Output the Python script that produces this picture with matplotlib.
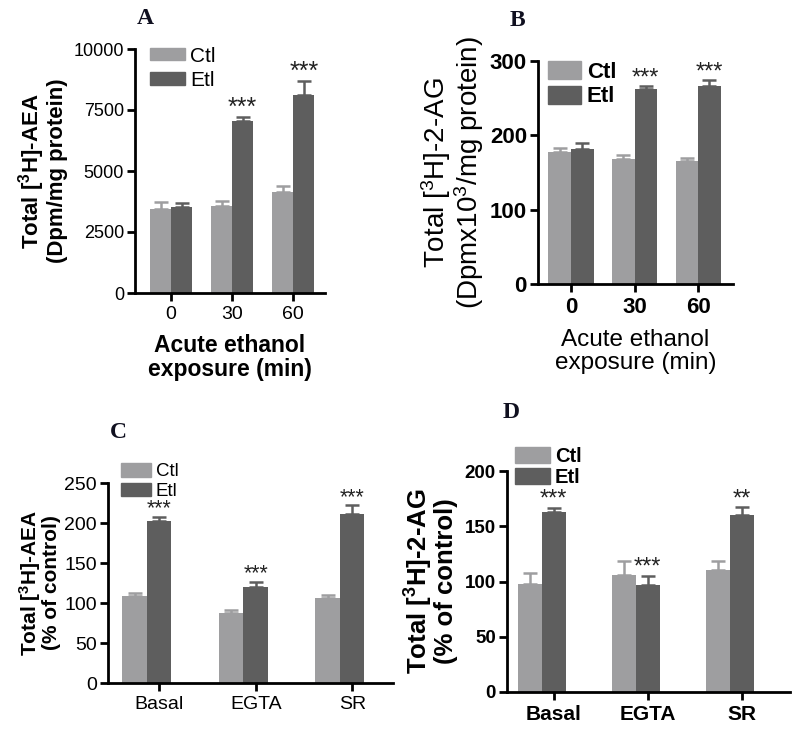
import numpy as np
import matplotlib
matplotlib.use('Agg')
import matplotlib.pyplot as plt
from matplotlib.patches import Patch

plt.rcParams['font.family'] = ['Liberation Sans', 'DejaVu Sans']
plt.rcParams['mathtext.default'] = 'regular'

CTL_C = '#9e9ea0'
ETL_C = '#5e5e5e'

# panel A: total [3H]-AEA (Dpm/mg protein)
times = ['0', '30', '60']
a_ctl = [3460, 3570, 4120]
a_ctl_err = [250, 190, 280]
a_etl = [3530, 7060, 8120]
a_etl_err = [140, 140, 580]
a_stars = ['', '***', '***']

# panel B: total [3H]-2-AG (Dpm x10^3/mg protein)
b_ctl = [177, 168, 166]
b_ctl_err = [6, 5, 4]
b_etl = [181, 262, 267]
b_etl_err = [9, 4, 7]
b_stars = ['', '***', '***']

# panel C: total [3H]-AEA (% of control)
conds = ['Basal', 'EGTA', 'SR']
c_ctl = [109, 87.5, 106.5]
c_ctl_err = [3, 4, 3.5]
c_etl = [203, 119.5, 211]
c_etl_err = [5, 7, 11.5]
c_stars = ['***', '***', '***']

# panel D: total [3H]-2-AG (% of control)
d_ctl = [97.5, 105.5, 110.5]
d_ctl_err = [10, 13, 8.5]
d_etl = [162.5, 96.5, 160.5]
d_etl_err = [4, 8.5, 6.5]
d_stars = ['***', '***', '**']

W, H = 800, 731
fig = plt.figure(figsize=(W / 100, H / 100), dpi=100)


def px_axes(left, right, top, bottom):
    return fig.add_axes([left / W, 1 - bottom / H, (right - left) / W, (bottom - top) / H])


def panel(ax, labels, ctl, ctl_err, etl, etl_err, stars, width, xlim, ylim, yticks,
          ytick_fs, xtick_fs, tick_bold, star_fs, tick_shift=0.0):
    x = np.arange(len(labels))
    ax.bar(x - width / 2, ctl, width, color=CTL_C, zorder=2)
    ax.bar(x + width / 2, etl, width, color=ETL_C, zorder=2)
    ax.errorbar(x - width / 2, ctl, yerr=[np.zeros(len(ctl)), ctl_err], fmt='none',
                ecolor=CTL_C, elinewidth=1.8, capsize=5, capthick=1.8, zorder=1)
    ax.errorbar(x + width / 2, etl, yerr=[np.zeros(len(etl)), etl_err], fmt='none',
                ecolor=ETL_C, elinewidth=1.8, capsize=5, capthick=1.8, zorder=1)
    for i, s in enumerate(stars):
        if s:
            ax.annotate(s, (x[i] + width / 2, etl[i] + etl_err[i]), xytext=(0, -2),
                        textcoords='offset points', ha='center', va='bottom',
                        fontsize=star_fs, color='#222222')
    ax.set_xlim(*xlim)
    ax.set_ylim(*ylim)
    ax.set_yticks(yticks)
    ax.set_xticks(x + tick_shift)
    ax.set_xticklabels(labels)
    for s in ['top', 'right']:
        ax.spines[s].set_visible(False)
    for s in ['left', 'bottom']:
        ax.spines[s].set_linewidth(2)
    ax.tick_params(width=2, length=6)
    ax.tick_params(axis='y', labelsize=ytick_fs, pad=2)
    ax.tick_params(axis='x', labelsize=xtick_fs)
    wt = 'bold' if tick_bold else 'normal'
    for t in ax.get_xticklabels() + ax.get_yticklabels():
        t.set_fontweight(wt)


def legend(ax, anchor, fs, bold, hl, hh, sp):
    h = [Patch(color=CTL_C, label='Ctl'), Patch(color=ETL_C, label='Etl')]
    ax.legend(handles=h, loc='upper left', bbox_to_anchor=anchor, frameon=False,
              prop={'size': fs, 'weight': 'bold' if bold else 'normal'},
              handlelength=hl, handleheight=hh, handletextpad=0.25, labelspacing=sp,
              borderaxespad=0, borderpad=0)


def title(x, y, s, fs=17):
    fig.text(x / W, 1 - y / H, s, family='Liberation Serif', fontweight='bold',
             fontsize=fs, color='#101020', ha='left', va='center')


# A
ax = px_axes(135, 325, 49, 293)
panel(ax, times, a_ctl, a_ctl_err, a_etl, a_etl_err, a_stars, 0.345, (-0.59, 2.52),
      (0, 10000), [0, 2500, 5000, 7500, 10000], 13, 14, False, 18)
ax.set_ylabel('Total [$^3$H]-AEA\n(Dpm/mg protein)', fontsize=16, fontweight='bold',
              linespacing=1.0, labelpad=4)
ax.set_xlabel('Acute ethanol\nexposure (min)', fontsize=16.5, fontweight='bold',
              linespacing=1.05, labelpad=8)
legend(ax, (0.08, 1.01), 15, False, 1.65, 0.55, 0.25)
title(137, 19, 'A')

# B
ax = px_axes(538, 733, 61, 284)
panel(ax, times, b_ctl, b_ctl_err, b_etl, b_etl_err, b_stars, 0.355, (-0.52, 2.55),
      (0, 300), [0, 100, 200, 300], 16, 16, True, 17)
ax.set_ylabel('Total [$^3$H]-2-AG\n(Dpmx10$^3$/mg protein)', fontsize=20,
              linespacing=0.95, labelpad=3)
ax.set_xlabel('Acute ethanol\nexposure (min)', fontsize=17.5, linespacing=1.05, labelpad=8)
legend(ax, (0.05, 1.0), 16, True, 1.5, 0.9, 0.12)
title(510, 21, 'B')

# C
ax = px_axes(108, 393, 483, 683)
panel(ax, conds, c_ctl, c_ctl_err, c_etl, c_etl_err, c_stars, 0.254, (-0.404, 2.55),
      (0, 250), [0, 50, 100, 150, 200, 250], 14, 14, False, 15.5, tick_shift=0.127)
ax.set_ylabel('Total [$^3$H]-AEA\n(% of control)', fontsize=15, fontweight='bold',
              linespacing=0.95, labelpad=2)
legend(ax, (0.045, 1.1), 13.5, False, 1.6, 0.75, 0.12)
title(110, 432, 'C')

# D
ax = px_axes(507, 790, 471, 692)
panel(ax, conds, d_ctl, d_ctl_err, d_etl, d_etl_err, d_stars, 0.255, (-0.37, 2.64),
      (0, 200), [0, 50, 100, 150, 200], 13.5, 15, True, 17, tick_shift=0.128)
ax.set_ylabel('Total [$^3$H]-2-AG\n(% of control)', fontsize=18.5, fontweight='bold',
              linespacing=0.95, labelpad=5)
legend(ax, (0.03, 1.11), 14.5, True, 1.7, 0.85, 0.12)
title(503, 413, 'D')

fig.savefig('out.png', dpi=100)
